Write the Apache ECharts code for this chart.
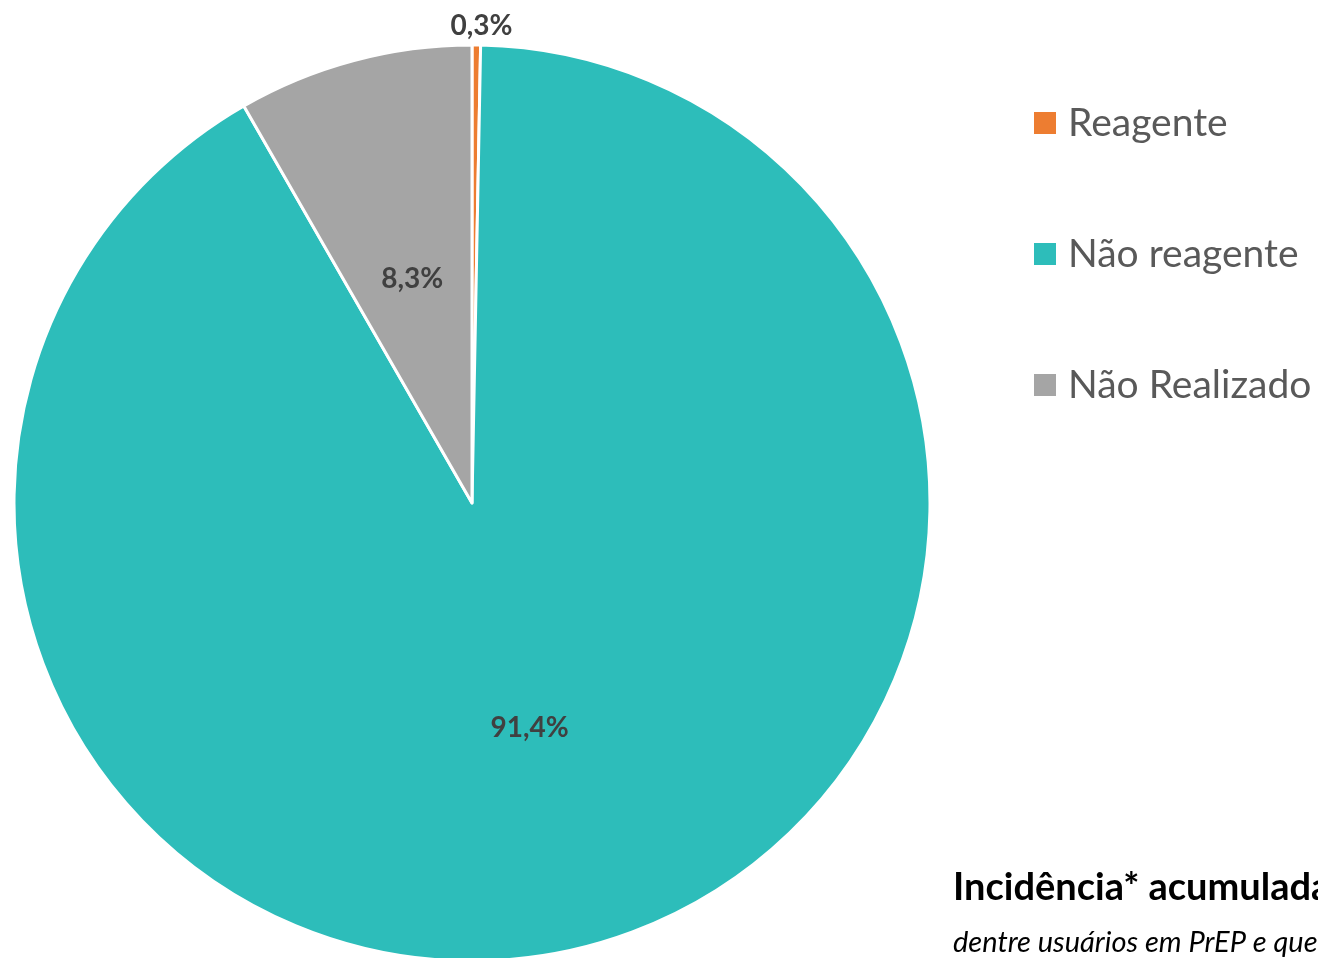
<!DOCTYPE html>
<html>
<head>
<meta charset="utf-8">
<title>Incidência acumulada</title>
<script src="https://cdn.jsdelivr.net/npm/echarts@6/dist/echarts.min.js"></script>
<style>
	html, body { margin: 0; padding: 0; background: #fff; }
	#main { width: 1318px; height: 958px; }
</style>
</head>
<body>
<div id="main"></div>
<script>
// dados do gráfico
var categorias = ['Reagente', 'Não reagente', 'Não Realizado'];
var valores = [0.3, 91.4, 8.3];
var cores = ['#ED7D31', '#2DBDBA', '#A5A5A5'];

var titulo = 'Incidência* acumulada';
var subtitulo = 'dentre usuários em PrEP e que';

var chart = echarts.init(document.getElementById('main'));

var dados = [];
for (var i = 0; i < categorias.length; i++) {
	var item = { name: categorias[i], value: valores[i], itemStyle: { color: cores[i] } };
	// fatia pequena: rótulo fora, acima
	if (i === 0) {
		item.label = { position: 'outside' };
		item.labelLine = { show: false, length: 19, length2: 0 };
	}
	dados.push(item);
}

var option = {
	animation: false,
	title: {
		text: titulo,
		subtext: subtitulo,
		left: 953,
		top: 869,
		padding: 0,
		itemGap: 21,
		textStyle: { fontFamily: 'Lato', fontWeight: 'bold', fontSize: 38, color: '#000' },
		subtextStyle: { fontFamily: 'Lato', fontStyle: 'italic', fontSize: 29, color: '#000' }
	},
	legend: {
		orient: 'vertical',
		left: 1032,
		top: 103,
		padding: 0,
		icon: 'rect',
		itemWidth: 24,
		itemHeight: 24,
		itemGap: 91,
		data: categorias,
		textStyle: { fontFamily: 'Lato', fontSize: 39, color: '#595959', padding: [0, 0, 0, 6], lineHeight: 40 }
	},
	series: [{
		type: 'pie',
		center: [472, 503],
		radius: 458,
		startAngle: 90,
		clockwise: true,
		data: dados,
		itemStyle: { borderColor: '#fff', borderWidth: 3 },
		label: {
			show: true,
			position: 'inside',
			fontFamily: 'Lato',
			fontWeight: 'bold',
			fontSize: 28,
			color: '#404040',
			formatter: function(p) {
				return p.value.toFixed(1).replace('.', ',') + '%';
			}
		},
		labelLayout: function(p) {
			if (p.dataIndex === 0) {
				return { align: 'center', verticalAlign: 'middle' };
			}
		}
	}]
};

chart.setOption(option);
</script>
</body>
</html>
